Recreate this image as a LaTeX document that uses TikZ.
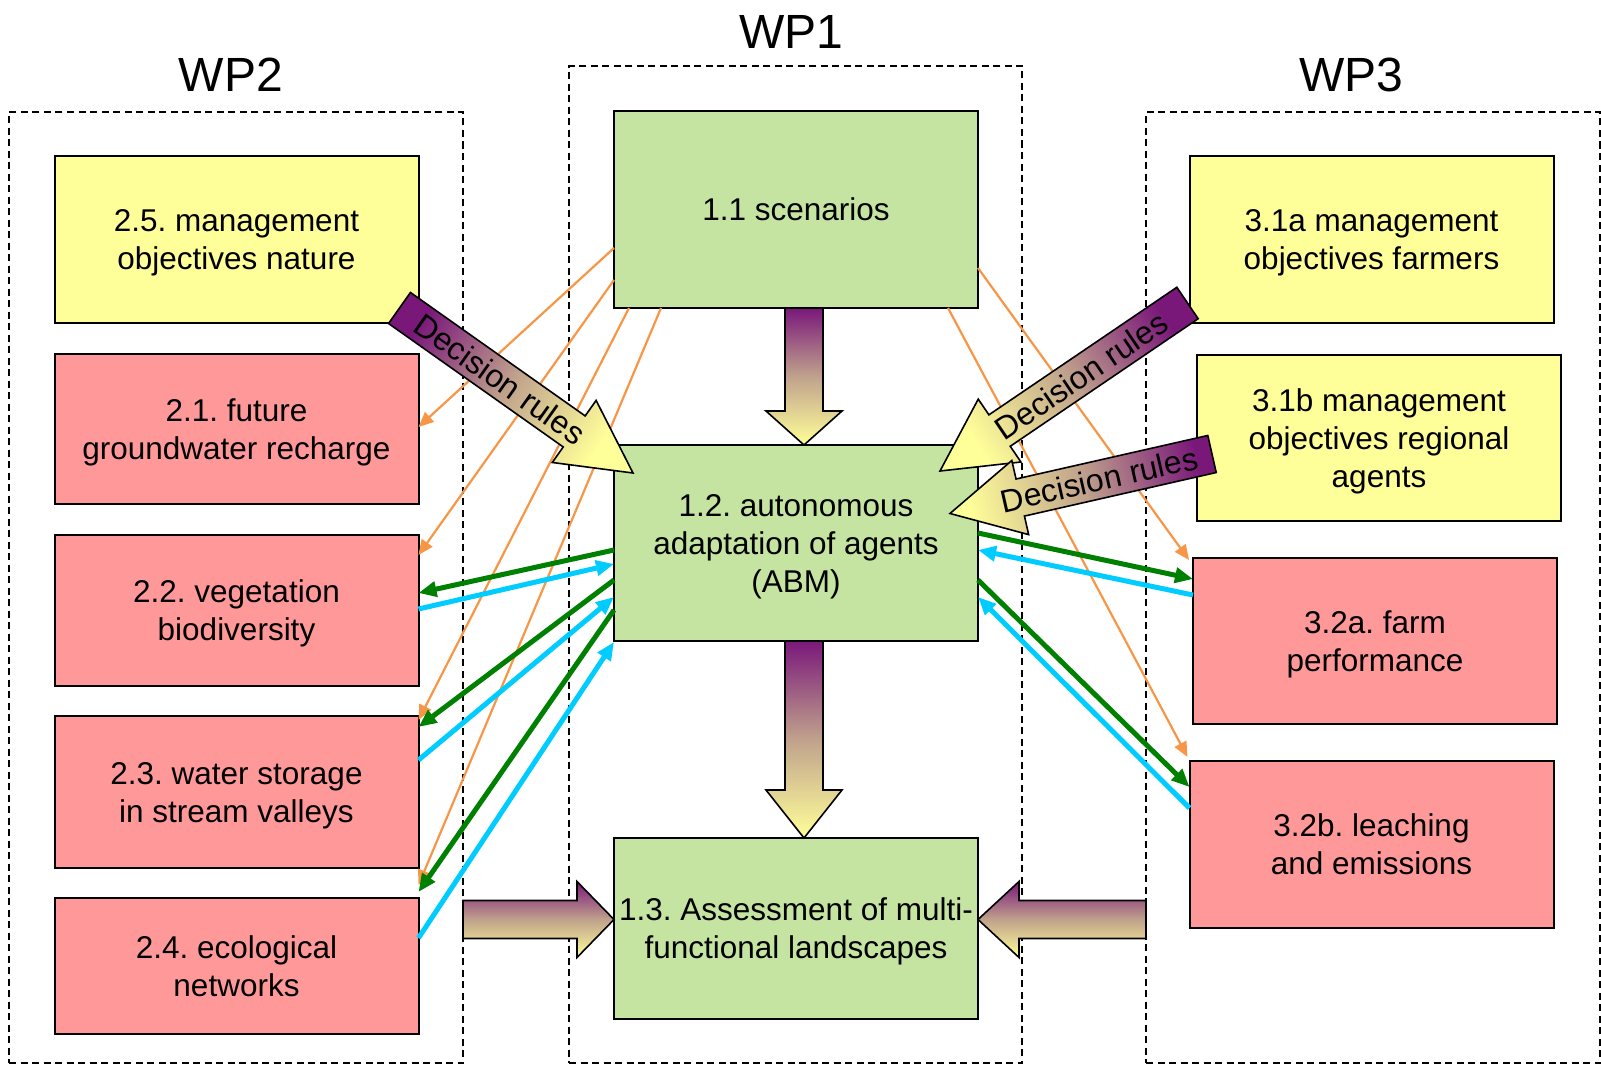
\documentclass[tikz,border=0pt]{standalone}
\usepackage{fontspec}
\setmainfont{Liberation Sans}
\usetikzlibrary{arrows.meta,calc,positioning}

\definecolor{boxyellow}{RGB}{255,255,153}
\definecolor{boxpink}{RGB}{255,153,153}
\definecolor{boxgreen}{RGB}{197,228,162}
\definecolor{flowpurple}{RGB}{122,24,122}
\definecolor{flowtan}{RGB}{192,162,140}
\definecolor{floworange}{RGB}{247,150,70}
\definecolor{flowgreen}{RGB}{0,128,0}
\definecolor{flowcyan}{RGB}{0,204,255}

\tikzset{
  taskbox/.style={draw=black, line width=2pt, outer sep=0pt, inner sep=2pt,
    minimum width=364pt, align=center, font=\fontsize{31.5}{38}\selectfont,
    text depth=-2.5pt},
  wpframe/.style={draw=black, line width=1.5pt, dash pattern=on 7pt off 4.5pt, outer sep=0pt},
  wplabel/.style={inner sep=0pt, font=\fontsize{48}{56}\selectfont},
  scenline/.style={draw=floworange, line width=2.2pt, -{Triangle[length=15pt,width=13pt]}},
  outflow/.style={draw=flowgreen, line width=5pt, -{Triangle[length=18pt,width=15pt]}},
  inflow/.style={draw=flowcyan, line width=5pt, -{Triangle[length=18pt,width=15pt]}},
  fatflow/.style 2 args={draw=black, line width=1.6pt,
    top color=flowpurple, bottom color=boxyellow, middle color=flowtan,
    shading angle=#2,
    to path={let \p1=(\tikztostart), \p2=(\tikztotarget),
      \n1={atan2(\y2-\y1,\x2-\x1)}, \n2={veclen(\x2-\x1,\y2-\y1)-#1} in
      ($(\p1)+(\n1+90:19pt)$) -- ++(\n1:\n2) -- ++(\n1+90:19pt) -- (\p2)
      -- ($(\p1)+(\n1:\n2)+(\n1-90:38pt)$) -- ++(\n1+90:19pt)
      -- ($(\p1)+(\n1-90:19pt)$) -- cycle}},
  rulelabel/.style={inner sep=0pt, font=\fontsize{32}{38}\selectfont}
}

\begin{document}
\frenchspacing
\begin{tikzpicture}[x=1pt, y=-1pt]
  \useasboundingbox (0,0) rectangle (1601,1065);

  % Work packages
  \node[wpframe, minimum width=454pt, minimum height=951pt] (wp2) at (236,587.5) {};
  \node[wpframe, minimum width=453pt, minimum height=997pt] (wp1) at (795.5,564.5) {};
  \node[wpframe, minimum width=454pt, minimum height=951pt] (wp3) at (1373,587.5) {};
  \node[wplabel, above=20pt of wp2, xshift=-5pt] (lwp2) {WP2};
  \node[wplabel, above=17pt of wp1, xshift=-4pt] (lwp1) {WP1};
  \node[wplabel, above=20pt of wp3, xshift=-22pt] (lwp3) {WP3};

  % WP2 tasks
  \node[taskbox, fill=boxyellow, minimum height=167pt] (n25) at (236.5,239.5) {2.5. management\\objectives nature};
  \node[taskbox, fill=boxpink, minimum height=150pt, below=31pt of n25] (n21) {2.1. future\\groundwater recharge};
  \node[taskbox, fill=boxpink, minimum height=151pt, below=31pt of n21] (n22) {2.2. vegetation\\biodiversity};
  \node[taskbox, fill=boxpink, minimum height=152pt, below=30pt of n22] (n23) {2.3. water storage\\in stream valleys};
  \node[taskbox, fill=boxpink, minimum height=136pt, below=30pt of n23] (n24) {2.4. ecological\\networks};

  % WP1 tasks
  \node[taskbox, fill=boxgreen, minimum height=197pt] (n11) at (796,209.5) {1.1 scenarios};
  \node[taskbox, fill=boxgreen, minimum height=196pt, below=137pt of n11] (n12) {1.2. autonomous\\adaptation of agents\\(ABM)};
  \node[taskbox, fill=boxgreen, minimum height=181pt, below=197pt of n12] (n13) {1.3. Assessment of multi-\\functional landscapes};

  % WP3 tasks
  \node[taskbox, fill=boxyellow, minimum height=167pt] (n31a) at (1371.5,239.5) {3.1a management\\objectives farmers};
  \node[taskbox, fill=boxyellow, minimum height=166pt, below=32pt of n31a, xshift=7.5pt] (n31b) {3.1b management\\objectives regional\\agents};
  \node[taskbox, fill=boxpink, minimum height=166pt, below=37pt of n31b, xshift=-4pt] (n32a) {3.2a. farm\\performance};
  \node[taskbox, fill=boxpink, minimum height=167pt, below=37pt of n32a, xshift=-3.5pt] (n32b) {3.2b. leaching\\and emissions};

  % scenarios to the other work packages
  \draw[scenline] ($(n11.west)+(0,38.5)$) -- ($(n21.east)+(0,-2)$);
  \draw[scenline] ($(n11.west)+(0,70.5)$) -- ($(n22.north east)+(0,20)$);
  \draw[scenline] ($(n11.south west)+(15,0)$) -- ($(n23.north east)+(0,4)$);
  \draw[scenline] ($(n11.south west)+(47,0)$) -- ($(n24.north east)+(0,-13)$);
  \draw[scenline] ($(n11.east)+(0,58.5)$) -- ($(n32a.north west)+(-4,2)$);
  \draw[scenline] ($(n11.south east)+(-30,0)$) -- ($(n32b.north west)+(-2,-4)$);

  % main flow
  \coordinate (a1s) at ($(n11.south)+(8,0)$);
  \coordinate (a1e) at ($(n12.north)+(8,0)$);
  \coordinate (a2s) at ($(n12.south)+(8,0)$);
  \coordinate (a2e) at ($(n13.north)+(8,0)$);
  \coordinate (a3e) at ($(n13.west)+(0,-9)$);
  \coordinate (a4e) at ($(n13.east)+(0,-9)$);
  \draw[fatflow={34}{0}] (a1s) to (a1e);
  \draw[fatflow={48}{0}] (a2s) to (a2e);
  \draw[fatflow={37}{0}] (wp2.east |- a3e) to (a3e);
  \draw[fatflow={41}{0}] (wp3.west |- a4e) to (a4e);

  % decision rules
  \coordinate (d1s) at ($(n25.south east)+(-19,-15)$);
  \coordinate (d1e) at ($(n12.north west)+(19,28)$);
  \coordinate (d2s) at ($(n31a.south west)+(-2,-20)$);
  \coordinate (d2e) at ($(n12.north east)+(-38,26)$);
  \coordinate (d3s) at ($(n31b.west)+(15,16)$);
  \coordinate (d3e) at ($(n12.east)+(-28,-29.5)$);
  \draw[fatflow={72}{54.7}] (d1s) to (d1e);
  \draw[fatflow={72}{-55.9}] (d2s) to (d2e);
  \draw[fatflow={72}{-77.2}] (d3s) to (d3e);
  \node[rulelabel, rotate=-35.3] (dr1) at ($(d1s)!0.43!(d1e)$) {Decision rules};
  \node[rulelabel, rotate=34.1] (dr2) at ($(d2s)!0.43!(d2e)$) {Decision rules};
  \node[rulelabel, rotate=12.8] (dr3) at ($(d3s)!0.43!(d3e)$) {Decision rules};

  % exchange with WP2
  \draw[outflow] ($(n12.west)+(0,7)$) -- ($(n22.east)+(0,-17.5)$);
  \draw[inflow] ($(n22.east)+(0,-1.5)$) -- ($(n12.west)+(0,21)$);
  \draw[outflow] ($(n12.west)+(0,37)$) -- ($(n23.north east)+(0,11)$);
  \draw[inflow] ($(n23.east)+(0,-32)$) -- ($(n12.west)+(0,54)$);
  \draw[outflow] ($(n12.west)+(0,67)$) -- ($(n24.north east)+(0,-6)$);
  \draw[inflow] ($(n24.east)+(0,-28)$) -- ($(n12.south west)+(0,1)$);

  % exchange with WP3
  \draw[outflow] ($(n12.east)+(0,-10)$) -- ($(n32a.west)+(0,-62)$);
  \draw[inflow] ($(n32a.west)+(0,-46)$) -- ($(n12.east)+(0,7)$);
  \draw[outflow] ($(n12.east)+(0,37)$) -- ($(n32b.west)+(0,-57.5)$);
  \draw[inflow] ($(n32b.west)+(0,-36.5)$) -- ($(n12.east)+(0,54)$);

\end{tikzpicture}
\end{document}
